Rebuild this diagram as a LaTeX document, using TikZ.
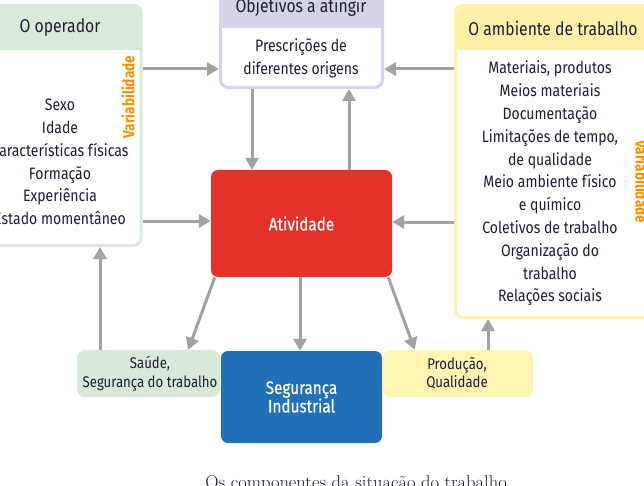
\documentclass[tikz,border=0pt]{standalone}
\usepackage{fontspec}
\newfontfamily\cond{Fira Sans}[FakeStretch=0.85]
\newfontfamily\condm{Fira Sans}[FakeStretch=0.85,FakeBold=0.6]
\usetikzlibrary{arrows.meta,calc}
\definecolor{opgreen}{HTML}{D9EADA}
\definecolor{objpurple}{HTML}{D5D2EB}
\definecolor{ambyellow}{HTML}{FFF2A8}
\definecolor{actred}{HTML}{E4322B}
\definecolor{segblue}{HTML}{2170B8}
\definecolor{arrowgray}{HTML}{A2A2A4}
\definecolor{varorange}{HTML}{F39200}
\definecolor{prodfill}{HTML}{FFF4B0}
\definecolor{saufill}{HTML}{D8E9D9}
\definecolor{txt}{HTML}{1D1D35}
\begin{document}
\begin{tikzpicture}[x=1pt,y=-1pt,
  card/.style={draw, line width=3pt, rounded corners=8pt, fill=white, inner sep=0pt},
  flat/.style={rounded corners=8pt, inner sep=0pt},
  arr/.style={draw=arrowgray, line width=3pt, -{Triangle[length=12pt,width=13pt]}},
  bodytxt/.style={font=\cond\fontsize{16.5}{22.8}\selectfont, text=txt, align=center, inner sep=0pt},
  smalltxt/.style={font=\cond\fontsize{15.5}{18.5}\selectfont, text=txt, align=center, inner sep=0pt},
  titletxt/.style={font=\cond\fontsize{18.5}{22}\selectfont, text=txt, inner sep=0pt},
  wtxt/.style={font=\condm\fontsize{18}{18.5}\selectfont, text=white, align=center, inner sep=0pt},
  vartxt/.style={font=\cond\bfseries\fontsize{16}{18}\selectfont, text=varorange, inner sep=0pt}]
\useasboundingbox (0,0) rectangle (644,486);
\clip (0,0) rectangle (644,486);
\fill[white] (0,0) rectangle (644,486);
% O operador
\node[card, draw=opgreen, minimum width=156pt, minimum height=240pt] (op) at (63,125.5) {};
\begin{scope}
  \clip[rounded corners=8pt] (op.north west) rectangle (op.south east);
  \fill[opgreen] (op.north west) rectangle (op.east |- 0,50);
\end{scope}
\node[titletxt] (opT) at (60,28) {O operador};
\node[bodytxt] (opB) at (60,162) {Sexo\\Idade\\Características físicas\\Formação\\Experiência\\Estado momentâneo};
\node[vartxt, rotate=90] (opV) at (128,97) {Variabilidade};
% Objetivos
\node[card, draw=objpurple, minimum width=162pt, minimum height=99.5pt] (obj) at (301.5,37.75) {};
\begin{scope}
  \clip[rounded corners=8pt] (obj.north west) rectangle (obj.south east);
  \fill[objpurple] (obj.north west) rectangle (obj.east |- 0,28);
\end{scope}
\node[titletxt] (objT) at (301,7) {Objetivos a atingir};
\node[bodytxt] (objB) at (301,58.5) {Prescrições de\\diferentes origens};
% Ambiente
\node[card, draw=ambyellow, minimum width=204.5pt, minimum height=312pt] (amb) at (557.75,161.5) {};
\begin{scope}
  \clip[rounded corners=8pt] (amb.north west) rectangle (amb.south east);
  \fill[ambyellow] (amb.north west) rectangle (amb.east |- 0,50);
\end{scope}
\node[titletxt] (ambT) at (553,28) {O ambiente de trabalho};
\node[bodytxt] (ambB) at (550,183.5) {Materiais, produtos\\Meios materiais\\Documentação\\Limitações de tempo,\\de qualidade\\Meio ambiente físico\\e químico\\Coletivos de trabalho\\Organização do\\trabalho\\Relações sociais};
\node[vartxt, rotate=-90] (ambV) at (642,182) {Variabilidade};
% Atividade
\node[flat, fill=actred, minimum width=181pt, minimum height=107pt, rounded corners=7pt] (act) at (301.5,223.5) {};
\node[wtxt] (actT) at (act.center) {Atividade};
% Seguranca industrial
\node[flat, fill=segblue, minimum width=161pt, minimum height=92pt, rounded corners=7pt] (seg) at (301.5,397) {};
\node[wtxt] (segT) at (seg.center) {Segurança\\Industrial};
% Saude
\node[flat, fill=saufill, minimum width=143pt, minimum height=47pt] (sau) at (148.5,373.5) {};
\node[smalltxt] (sauT) at (150,373.5) {Saúde,\\Segurança do trabalho};
% Producao
\node[flat, fill=prodfill, minimum width=150pt, minimum height=47pt] (prod) at (458,373.5) {};
\node[smalltxt] (prodT) at (457,373.5) {Produção,\\Qualidade};
% caption
\node[anchor=base, inner sep=0pt, font=\fontsize{18.5}{20}\selectfont, text=txt] (cap) at (356,488) {Os componentes da situação do trabalho};
% arrows
\draw[arr] (op.east |- 0,69) -- (obj.west |- 0,69);
\draw[arr] (op.east |- 0,221) -- (act.west |- 0,221);
\draw[arr] (amb.west |- 0,69) -- (obj.east |- 0,69);
\draw[arr] (amb.west |- 0,222) -- (act.east |- 0,222);
\draw[arr] (obj.south -| 252,0) -- (act.north -| 252,0);
\draw[arr] (act.north -| 349,0) -- (obj.south -| 349,0);
\draw[arr] (act.south -| 300,0) -- (seg.north -| 300,0);
\draw[arr] (sau.north -| 100,0) -- (op.south -| 100,0);
\draw[arr] (prod.north -| 488,0) -- (amb.south -| 488,0);
\draw[arr] ($(act.south west)+(4,0)$) -- ($(sau.north east)+(-32,0)$);
\draw[arr] ($(act.south east)+(-4,0)$) -- ($(prod.north west)+(32,0)$);
\end{tikzpicture}
\end{document}
